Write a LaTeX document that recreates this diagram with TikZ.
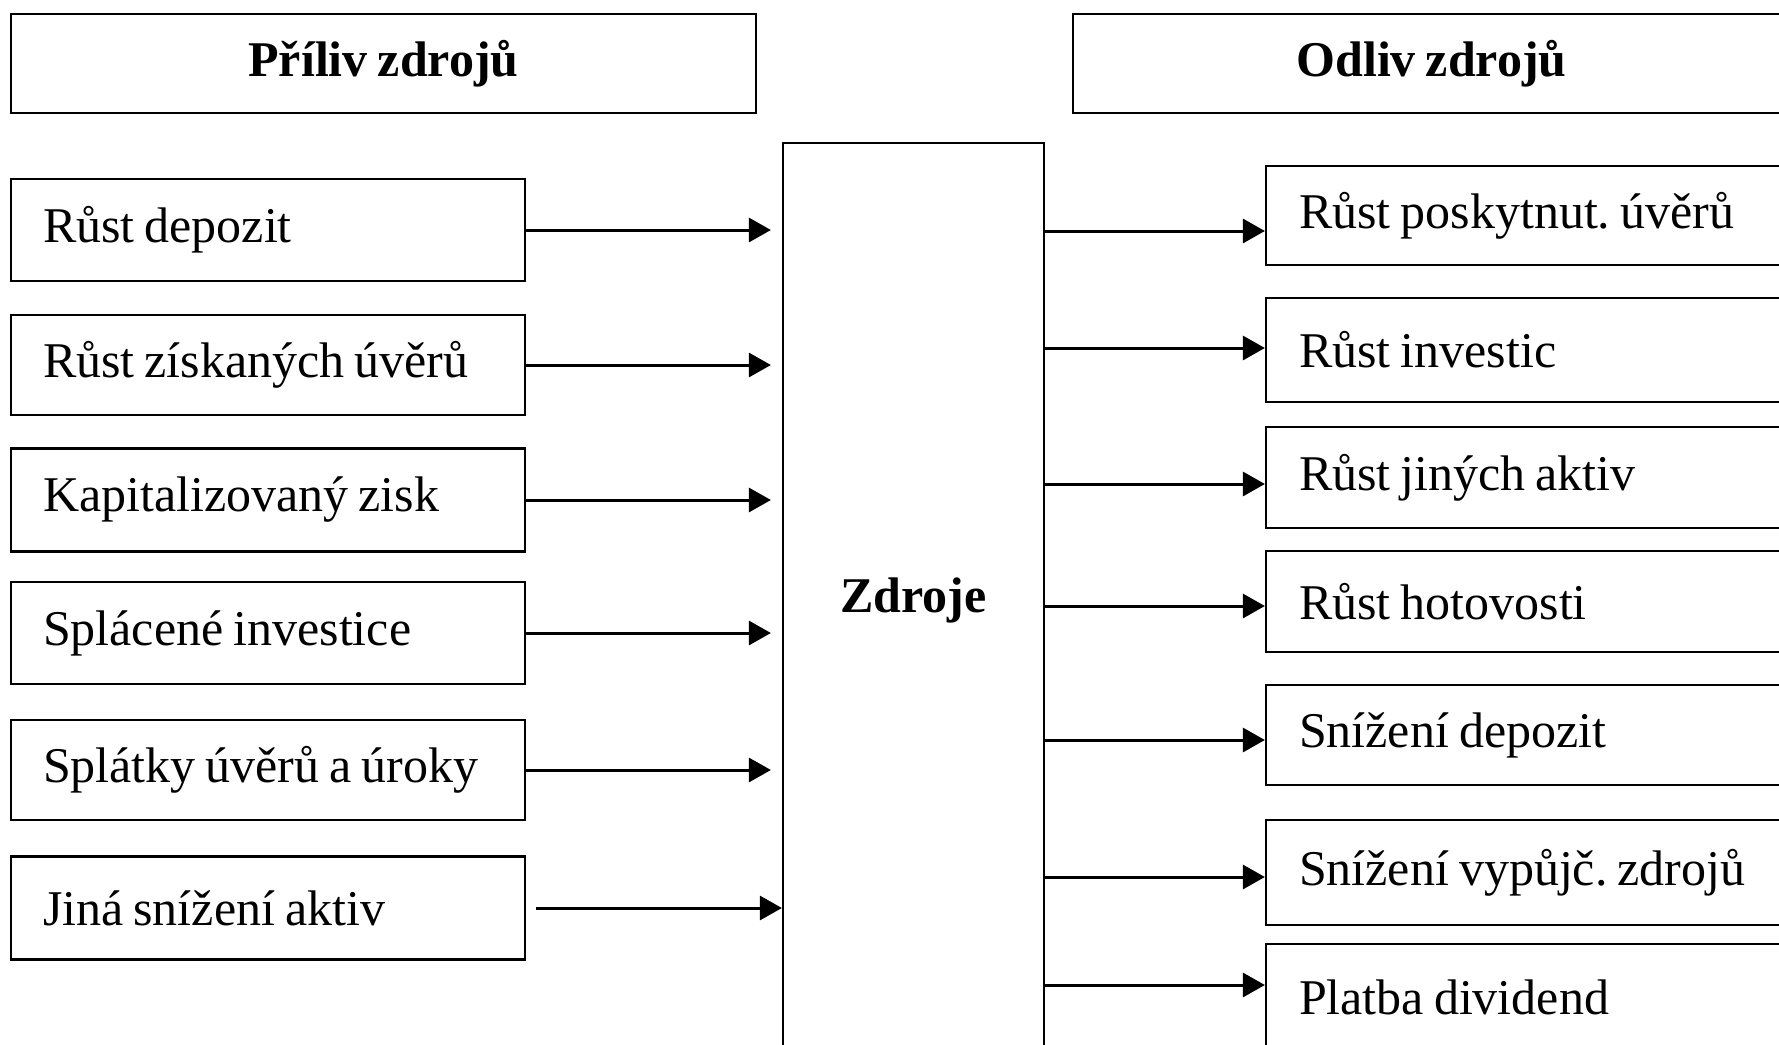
\documentclass[tikz,border=0pt]{standalone}
\usepackage{fontspec}
\setmainfont[WordSpace=0.8]{Liberation Serif}
\usetikzlibrary{arrows.meta}
\frenchspacing
\begin{document}
\begin{tikzpicture}[x=1pt,y=-1pt,
  box/.style={draw, line width=2.2pt, rectangle, inner ysep=0pt, font=\fontsize{50}{60}\selectfont},
  lbox/.style={box, minimum width=514pt, text width=470pt, align=flush left, inner xsep=22pt},
  rbox/.style={box, minimum width=524pt, text width=458pt, align=flush left, inner xsep=33pt},
  hbox/.style={box, font=\fontsize{50}{60}\selectfont\bfseries, align=center},
  arr/.style={line width=3pt, -{Triangle[length=22pt,width=24pt]}}
]
\useasboundingbox (0,0) rectangle (1779,1044);
\clip (0,0) rectangle (1779,1044);
\fill[white] (0,0) rectangle (1779,1044);

% headers
\node[hbox, minimum width=745pt, minimum height=99pt] (HL) at (383.5,63.5) {Příliv zdrojů};
\node[hbox, minimum width=717pt, minimum height=99pt] (HR) at (1431.5,63.5) {Odliv zdrojů};

% centre
\node[hbox, minimum width=261pt, minimum height=914pt] (Z) at (913.5,600) {Zdroje};

% left boxes
\node[lbox, minimum height=102pt] (L1) at (268,230) {\hspace*{10pt}Růst depozit};
\node[lbox, minimum height=100pt] (L2) at (268,365) {\hspace*{10pt}Růst získaných úvěrů};
\node[lbox, minimum height=103pt] (L3) at (268,500) {\hspace*{10pt}Kapitalizovaný zisk};
\node[lbox, minimum height=102pt] (L4) at (268,633) {\hspace*{10pt}Splácené investice};
\node[lbox, minimum height=100pt] (L5) at (268,770) {\hspace*{10pt}Splátky úvěrů a úroky};
\node[lbox, minimum height=103pt] (L6) at (268,908) {\hspace*{10pt}Jiná snížení aktiv};

% right boxes
\node[rbox, minimum height=99pt] (R1) at (1528,215.5) {Růst poskytnut. úvěrů};
\node[rbox, minimum height=104pt] (R2) at (1528,350) {Růst investic};
\node[rbox, minimum height=101pt] (R3) at (1528,477.5) {Růst jiných aktiv};
\node[rbox, minimum height=101pt] (R4) at (1528,601.5) {Růst hotovosti};
\node[rbox, minimum height=100pt] (R5) at (1528,735) {Snížení depozit};
\node[rbox, minimum height=105pt] (R6) at (1528,872.5) {Snížení vypůjč. zdrojů};
\node[rbox, minimum height=106pt] (R7) at (1528,997) {Platba dividend};

% left arrows
\draw[arr, shorten >=11pt] (L1.east) -- (L1.east -| Z.west);
\draw[arr, shorten >=11pt] (L2.east) -- (L2.east -| Z.west);
\draw[arr, shorten >=11pt] (L3.east) -- (L3.east -| Z.west);
\draw[arr, shorten >=11pt] (L4.east) -- (L4.east -| Z.west);
\draw[arr, shorten >=11pt] (L5.east) -- (L5.east -| Z.west);
\draw[arr, shorten <=10pt] (L6.east) -- (L6.east -| Z.west);

% right arrows
\draw[arr] (Z.east |- 0,231) -- (R1.west |- 0,231);
\draw[arr] (Z.east |- 0,348) -- (R2.west |- 0,348);
\draw[arr] (Z.east |- 0,484) -- (R3.west |- 0,484);
\draw[arr] (Z.east |- 0,606) -- (R4.west |- 0,606);
\draw[arr] (Z.east |- 0,740) -- (R5.west |- 0,740);
\draw[arr] (Z.east |- 0,877) -- (R6.west |- 0,877);
\draw[arr] (Z.east |- 0,985) -- (R7.west |- 0,985);
\end{tikzpicture}
\end{document}
